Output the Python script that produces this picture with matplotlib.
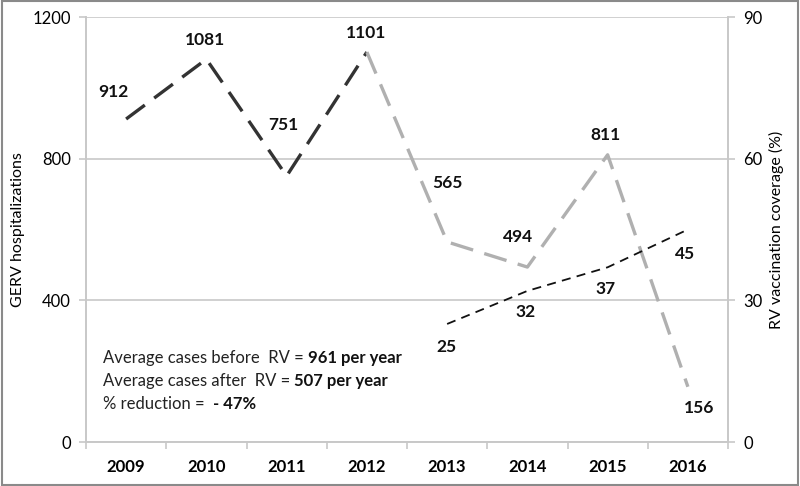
import matplotlib.pyplot as plt
from matplotlib.patches import Rectangle

plt.rcParams['font.family'] = ['Lato', 'DejaVu Sans']

# === data ===
years = ["2009", "2010", "2011", "2012", "2013", "2014", "2015", "2016"]
before_rv = [912, 1081, 751, 1101]
after_rv = [1101, 565, 494, 811, 156]
coverage_years = ["2013", "2014", "2015", "2016"]
coverage = [25, 32, 37, 45]

# label offsets in pixels (dx, dy)
case_offsets = [(-13, 27), (-1, 19), (-3, 51), (-1, 19), (0, 59), (-9, 30), (-2, 20), (11, -21)]
cov_offsets = [(-1, -23), (-2, -21), (-2, -22), (-3, -24)]

xpos = {y: i for i, y in enumerate(years)}

fig = plt.figure(figsize=(8, 4.86), dpi=100)
ax = fig.add_axes([0.1075, 0.0905, 0.8025, 0.8745])
ax2 = ax.twinx()

grid_c = "#c8c8c8"
ax.set_xlim(-0.5, 7.5)
ax.set_ylim(0, 1200)
ax2.set_ylim(0, 90)
ax.set_yticks([0, 400, 800, 1200])
ax2.set_yticks([0, 30, 60, 90])
ax.yaxis.grid(True, color=grid_c, linewidth=1.2)
ax.set_axisbelow(True)

ax.set_xticks(range(len(years)))
ax.set_xticklabels(years, fontsize=12, fontweight="bold")
ax.set_xticks([i - 0.5 for i in range(len(years) + 1)], minor=True)
ax.tick_params(axis="x", which="major", length=0, pad=12)
ax.tick_params(axis="x", which="minor", length=5, color=grid_c, width=1.2)
ax.tick_params(axis="y", length=5, color=grid_c, width=1.2, labelsize=12, pad=6)
ax2.tick_params(axis="y", length=5, color=grid_c, width=1.2, labelsize=12, pad=6)

for a in (ax, ax2):
    a.spines["top"].set_visible(False)
    for s in ("left", "right", "bottom"):
        a.spines[s].set_color(grid_c)
        a.spines[s].set_linewidth(1.2)

ax.set_ylabel("GERV hospitalizations", fontsize=11.5)
ax.yaxis.set_label_coords(-0.095, 0.5)
ax2.set_ylabel("RV vaccination coverage (%)", fontsize=11.5)
ax2.yaxis.set_label_coords(1.063, 0.5)

# lines
x_before = [xpos[y] for y in years[:4]]
x_after = [xpos[y] for y in years[3:]]
ax.plot(x_before, before_rv, color="#333333", linewidth=2.4,
        dashes=(7, 3.5), dash_capstyle="butt", zorder=3)
ax.plot(x_after, after_rv, color="#b0b0b0", linewidth=2.4,
        dashes=(7, 3.5), dash_capstyle="butt", zorder=3)
x_cov = [xpos[y] for y in coverage_years]
ax2.plot(x_cov, coverage, color="#111111", linewidth=1.3,
         dashes=(5, 3.5), zorder=3)

# value labels
all_cases = before_rv + after_rv[1:]
for i, (v, (dx, dy)) in enumerate(zip(all_cases, case_offsets)):
    ax.annotate(str(v), (i, v), xytext=(dx * 0.72, dy * 0.72), textcoords="offset points",
                ha="center", va="center", fontsize=12.5, fontweight="bold", color="#111111")
for x, v, (dx, dy) in zip(x_cov, coverage, cov_offsets):
    ax2.annotate(str(v), (x, v), xytext=(dx * 0.72, dy * 0.72), textcoords="offset points",
                 ha="center", va="center", fontsize=12.5, fontweight="bold", color="#111111")

# summary text
lines = [
    ("Average cases before  RV = ", "961 per year"),
    ("Average cases after  RV = ", "507 per year"),
    ("% reduction =  ", "- 47%"),
]
fig.canvas.draw()
r = fig.canvas.get_renderer()
for k, (plain, bold) in enumerate(lines):
    y = 486 - (358 + k * 23)
    t = fig.text(103 / 800, y / 486, plain, fontsize=12, va="center", color="#222222")
    bb = t.get_window_extent(renderer=r)
    fig.text(bb.x1 / 800, y / 486, bold, fontsize=12, va="center",
             fontweight="bold", color="#111111")

# outer chart border
fig.patches.append(Rectangle((0.002, 0.003), 0.996, 0.994, transform=fig.transFigure,
                             fill=False, edgecolor="#8a8a8a", linewidth=1.5))

fig.savefig("out.png", dpi=100)
